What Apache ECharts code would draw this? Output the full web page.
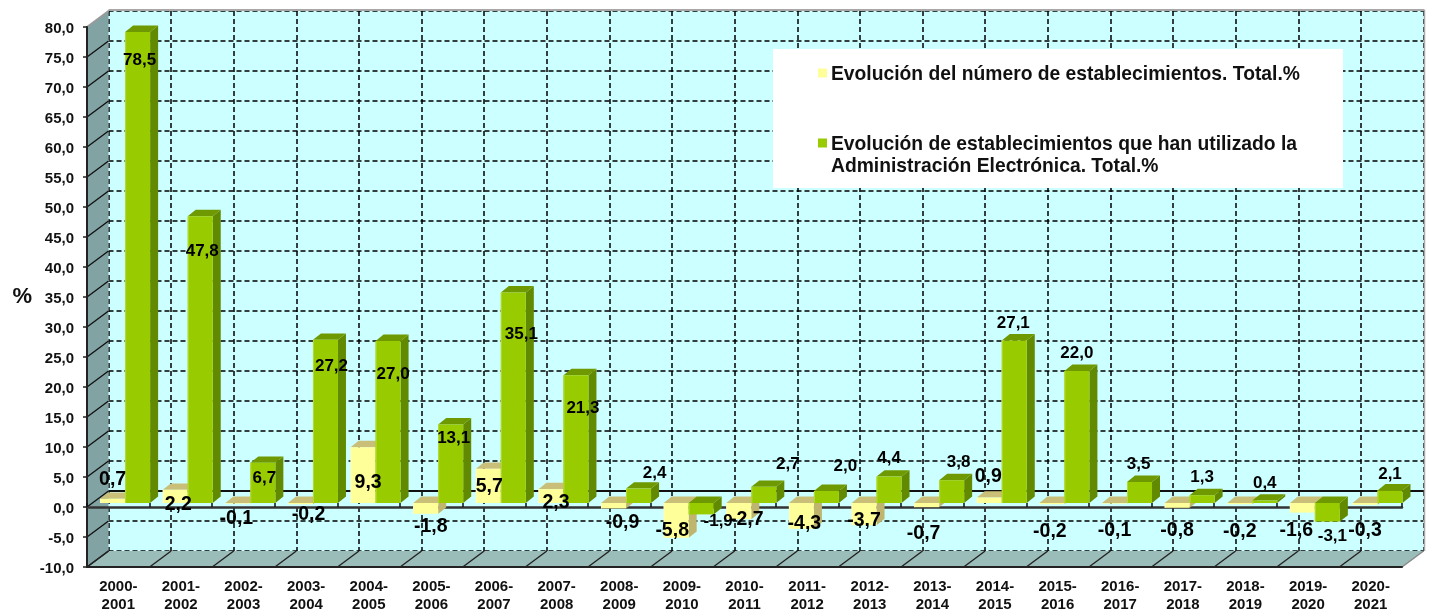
<!DOCTYPE html>
<html><head><meta charset="utf-8">
<style>html,body{margin:0;padding:0;background:#fff}#c{width:1431px;height:609px}</style>
<script src="https://cdn.jsdelivr.net/npm/echarts@6/dist/echarts.min.js"></script>
</head><body><div id="c"></div>
<script>
const categories = ['2000-\n2001','2001-\n2002','2002-\n2003','2003-\n2004','2004-\n2005','2005-\n2006','2006-\n2007','2007-\n2008','2008-\n2009','2009-\n2010','2010-\n2011','2011-\n2012','2012-\n2013','2013-\n2014','2014-\n2015','2015-\n2016','2016-\n2017','2017-\n2018','2018-\n2019','2019-\n2020','2020-\n2021'];
const yellowValues = [0.7,2.2,-0.1,-0.2,9.3,-1.8,5.7,2.3,-0.9,-5.8,-2.7,-4.3,-3.7,-0.7,0.9,-0.2,-0.1,-0.8,-0.2,-1.6,-0.3];
const greenValues = [78.5,47.8,6.7,27.2,27.0,13.1,35.1,21.3,2.4,-1.9,2.7,2.0,4.4,3.8,27.1,22.0,3.5,1.3,0.4,-3.1,2.1];
const yTicks = [-10,-5,0,5,10,15,20,25,30,35,40,45,50,55,60,65,70,75,80];
const yellowName = 'Evolución del número de establecimientos. Total.%';
const greenName = 'Evolución de establecimientos que han utilizado la\nAdministración Electrónica. Total.%';

// label placement relative to each bar's top (pixels)
const yellowNudge = [[0,-19],[3,15],[-1.5,15],[8,10],[5,35],[5,13],[1,18],[5,13],[9,14],[-4,-7],[8,0],[3,-5],[0,-5],[-3,26],[-1,-21],[-2,27],[0,27],[0,23],[0,27],[-6,18],[0,26]];
const greenNudge = [[2,28],[2,35],[1.5,16],[6,27],[5,33],[3,14],[8,42],[7,33],[16,-15],[17,7],[24,-22],[19,-25],[0,-18],[7,-18],[-1,-17],[0,-18],[-1,-18],[0,-18],[0,-17],[5,15],[0,-16]];

const FONT = '"Liberation Sans", Arial, sans-serif';
const WALL_DX = 21.5, WALL_DY = 16;
const BAR_W = 25, BAR_DX = 8, BAR_DY = 6.4, BAR_SHIFT_X = 6.8, BAR_SHIFT_Y = 4;
const COL = {
  yellow:'#FFFF99', yellowDark:'#C9BF78', yellowSide:'#BFB56E', yellowEdge:'#FFFFC0',
  green:'#99CC00', greenTop:'#6E9900', greenSide:'#628A00', greenEdge:'#B4DC33',
  wall:'#82A3A3', floor:'#9BBDB9', back:'#CCFFFF'
};
const fmt = v => v.toFixed(1).replace('.', ',');

function poly(points, fill, stroke, lw){
  return {type:'polygon', shape:{points}, style:{fill, stroke:stroke||null, lineWidth:lw||0}};
}
function seg(x1,y1,x2,y2,stroke,lw){
  return {type:'line', shape:{x1,y1,x2,y2}, style:{stroke, lineWidth:lw, fill:null}};
}
function wallRender(params, api){
  const cs = params.coordSys, x0 = cs.x, x1 = cs.x+cs.width, yT = cs.y, yB = cs.y+cs.height;
  const d = WALL_DX, h = WALL_DY, kids = [];
  kids.push(poly([[x0,yT],[x0+d,yT-h],[x0+d,yB-h],[x0,yB]], COL.wall));
  kids.push(poly([[x0,yB],[x1,yB],[x1+d,yB-h],[x0+d,yB-h]], COL.floor));
  yTicks.forEach(t => {
    const y = api.coord([0,t])[1];
    const top = t===80;
    kids.push(seg(x0,y,x0+d,y-h, top?'#9a9a9a':'#111', top?2:1.4));
  });
  const w = cs.width/categories.length;
  categories.forEach((c,i)=>{ kids.push(seg(x0+i*w,yB,x0+i*w+d,yB-h,'#222',1.4)); });
  kids.push(seg(x1,yB,x1+d,yB-h,'#888',1.5));
  kids.push(seg(x0+d,yT-h-1,x1+d+1,yT-h-1,'#a8a8a8',2));
  kids.push(seg(x1+d+1,yT-h-1,x1+d+1,yB-h,'#a8a8a8',1.5));
  return {type:'group', children:kids};
}
function barRender(which){
  return function(params, api){
    const i = api.value(0), v = api.value(1);
    const c = api.coord([i,0]);
    const off = which==='yellow' ? -BAR_W : 0;
    const xl = c[0]+BAR_SHIFT_X+off, xr = xl+BAR_W;
    const y0 = c[1]-BAR_SHIFT_Y, yv = api.coord([i,v])[1]-BAR_SHIFT_Y;
    const top = Math.min(y0,yv), bot = Math.max(y0,yv);
    const front = which==='yellow'?COL.yellow:COL.green;
    const topC = which==='yellow'?COL.yellowDark:COL.greenTop;
    const side = which==='yellow'?COL.yellowSide:COL.greenSide;
    const edge = which==='yellow'?COL.yellowEdge:COL.greenEdge;
    return {type:'group', children:[
      poly([[xr,top],[xr+BAR_DX,top-BAR_DY],[xr+BAR_DX,bot-BAR_DY],[xr,bot]], side),
      poly([[xl,top],[xl+BAR_DX,top-BAR_DY],[xr+BAR_DX,top-BAR_DY],[xr,top]], topC),
      {type:'rect', shape:{x:xl,y:top,width:BAR_W,height:Math.max(bot-top,0.6)}, style:{fill:front}},
      seg(xl+0.5,top,xl+0.5,bot,edge,1)
    ]};
  };
}
function labelRender(which){
  const nudge = which==='yellow'?yellowNudge:greenNudge;
  const size = which==='yellow'?19.5:17;
  return function(params, api){
    const i = api.value(0), v = api.value(1);
    const c = api.coord([i,0]), yv = api.coord([i,v])[1]-BAR_SHIFT_Y;
    const off = which==='yellow' ? -BAR_W/2 : BAR_W/2;
    return {type:'text', style:{
      text:fmt(v), x:c[0]+BAR_SHIFT_X+off+nudge[i][0], y:yv+nudge[i][1],
      align:'center', verticalAlign:'middle',
      font:'bold '+size+'px '+FONT, fill:'#000'
    }};
  };
}
const pairs = a => a.map((v,i)=>[i,v]);
const SWATCH = 'path://M0,0H9V9H0Z M0,35H9';
const SWATCH_MID = 'path://M0,11H9V20H0Z M0,0H9 M0,35H9';

const option = {
  animation:false,
  backgroundColor:'#fff',
  grid:[
    {left:87, top:27, width:1315, height:540, z:0, outerBoundsMode:'none', containLabel:false},
    {left:87+WALL_DX, top:27-WALL_DY, width:1315, height:540, show:true, backgroundColor:COL.back, borderWidth:0, z:0, outerBoundsMode:'none', containLabel:false}
  ],
  graphic:[{type:'rect', left:773, top:49, z:5, shape:{width:570, height:139}, style:{fill:'#fff'}}],
  legend:{
    show:true, orient:'vertical', left:773, top:51,
    padding:[6.5,43,8,45], itemGap:41.5, itemWidth:9, itemHeight:35, selectedMode:false,
    borderWidth:0, itemStyle:{borderWidth:0}, z:6,
    textStyle:{fontFamily:FONT, fontWeight:'bold', fontSize:19.3, color:'#111', lineHeight:22, padding:[0,0,0,-1]},
    data:[
      {name:yellowName, icon:SWATCH_MID, itemStyle:{color:COL.yellow}},
      {name:greenName, icon:SWATCH, itemStyle:{color:COL.green}}
    ]
  },
  xAxis:[
    {type:'category', gridIndex:0, data:categories, position:'bottom', z:2,
      axisLine:{onZero:false, lineStyle:{color:'#222', width:2}},
      axisTick:{show:false},
      axisLabel:{interval:0, margin:11, fontFamily:FONT, fontWeight:'bold', fontSize:15, lineHeight:17.6, color:'#111'},
      splitLine:{show:false}},
    {type:'category', gridIndex:0, data:categories, z:2,
      axisLine:{onZero:true, lineStyle:{color:'#333', width:2.5}},
      axisTick:{show:true, length:4, lineStyle:{color:'#111', width:1.5}},
      axisLabel:{show:false}, splitLine:{show:false}},
    {type:'category', gridIndex:1, data:categories, z:0,
      axisLine:{show:true, onZero:true, lineStyle:{color:'#111', width:2}},
      axisTick:{show:false}, axisLabel:{show:false},
      splitLine:{show:true, interval:0, lineStyle:{color:'#000', type:[5,3], width:1.5}}}
  ],
  yAxis:[
    {type:'value', gridIndex:0, min:-10, max:80, interval:5, z:2,
      name:'%', nameLocation:'middle', nameRotate:0, nameGap:55,
      nameTextStyle:{fontFamily:FONT, fontWeight:'bold', fontSize:22, color:'#111', padding:[10,0,0,0]},
      axisLine:{show:true, onZero:false, lineStyle:{color:'#222', width:2}},
      axisTick:{show:true, length:4, lineStyle:{color:'#222', width:1.5}},
      axisLabel:{margin:13, formatter:v=>'{a|'+fmt(v)+'}',
        rich:{a:{fontFamily:FONT, fontWeight:'bold', fontSize:15, color:'#111', padding:[4,0,0,0]}}},
      splitLine:{show:false}},
    {type:'value', gridIndex:1, min:-10, max:80, interval:5, z:0,
      axisLine:{show:false}, axisTick:{show:false}, axisLabel:{show:false},
      splitLine:{show:true, lineStyle:{color:'#000', type:[5,3], width:1.5}}}
  ],
  series:[
    {type:'custom', name:'paredes', xAxisIndex:0, yAxisIndex:0, z:1, silent:true, data:[[0,0]], encode:{x:0,y:1}, renderItem:wallRender},
    {type:'custom', name:yellowName, xAxisIndex:0, yAxisIndex:0, z:3, data:pairs(yellowValues), encode:{x:0,y:1}, itemStyle:{color:COL.yellow}, renderItem:barRender('yellow')},
    {type:'custom', name:greenName, xAxisIndex:0, yAxisIndex:0, z:3, data:pairs(greenValues), encode:{x:0,y:1}, itemStyle:{color:COL.green}, renderItem:barRender('green')},
    {type:'custom', name:'etiquetas1', xAxisIndex:0, yAxisIndex:0, z:5, data:pairs(yellowValues), encode:{x:0,y:1}, renderItem:labelRender('yellow')},
    {type:'custom', name:'etiquetas2', xAxisIndex:0, yAxisIndex:0, z:5, data:pairs(greenValues), encode:{x:0,y:1}, renderItem:labelRender('green')}
  ]
};
const chart = echarts.init(document.getElementById('c'), null, {renderer:'canvas'});
chart.setOption(option);
</script></body></html>
